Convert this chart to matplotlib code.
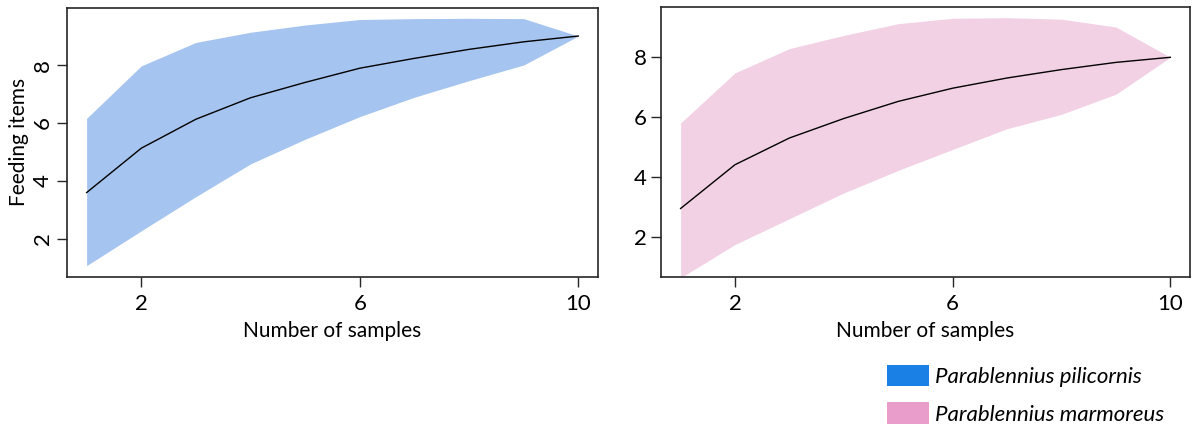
import matplotlib.pyplot as plt
from matplotlib.patches import Patch

plt.rcParams['font.family'] = ['Lato', 'DejaVu Sans']

samples = [1, 2, 3, 4, 5, 6, 7, 8, 9, 10]

# Parablennius pilicornis
pil_mean = [3.60, 5.13, 6.13, 6.87, 7.40, 7.89, 8.23, 8.54, 8.80, 9.00]
pil_upper = [6.16, 7.97, 8.78, 9.13, 9.38, 9.57, 9.60, 9.61, 9.60, 9.00]
pil_lower = [1.08, 2.28, 3.46, 4.59, 5.44, 6.22, 6.89, 7.46, 8.00, 9.00]

# Parablennius marmoreus
mar_mean = [2.96, 4.42, 5.31, 5.96, 6.53, 6.97, 7.31, 7.59, 7.83, 8.00]
mar_upper = [5.81, 7.48, 8.29, 8.73, 9.12, 9.30, 9.32, 9.27, 9.01, 8.00]
mar_lower = [0.65, 1.76, 2.62, 3.48, 4.23, 4.93, 5.62, 6.10, 6.77, 8.00]

species = ['Parablennius pilicornis', 'Parablennius marmoreus']
fill_colors = ['#a5c4ef', '#f3d1e4']
legend_colors = ['#1a80e5', '#e99dcb']

x_ticks = [2, 6, 10]
y_ticks = [2, 4, 6, 8]

fig = plt.figure(figsize=(11.94, 4.30), dpi=100)
ax1 = fig.add_axes([0.0561, 0.356, 0.4447, 0.6256])
ax2 = fig.add_axes([0.5536, 0.356, 0.4430, 0.6280])


def style_axis(ax, ylim):
    ax.set_xlim(0.64, 10.36)
    ax.set_ylim(*ylim)
    ax.set_xticks(x_ticks)
    ax.set_yticks(y_ticks)
    for s in ax.spines.values():
        s.set_linewidth(1.2)
        s.set_color('#262626')
    ax.tick_params(direction='out', length=7, width=1.0, color='#262626',
                   labelsize=16, pad=3)
    ax.tick_params(axis='x', pad=5)
    ax.set_xlabel('Number of samples', fontsize=15, labelpad=5)


ax1.fill_between(samples, pil_lower, pil_upper, color=fill_colors[0], lw=0)
ax1.plot(samples, pil_mean, color='black', lw=1.0)
style_axis(ax1, (0.69, 9.97))
ax1.set_ylabel('Feeding items', fontsize=15, labelpad=3)
for lab in ax1.get_yticklabels():
    lab.set_rotation(90)
    lab.set_va('center')

ax2.fill_between(samples, mar_lower, mar_upper, color=fill_colors[1], lw=0)
ax2.plot(samples, mar_mean, color='black', lw=1.0)
style_axis(ax2, (0.68, 9.68))

handles = [Patch(facecolor=c, edgecolor='none') for c in legend_colors]
leg = fig.legend(handles, species, loc='upper left',
                 bbox_to_anchor=(0.7429, 0.152), frameon=False,
                 prop={'size': 16, 'style': 'italic'},
                 handlelength=1.9, handleheight=1.1,
                 handletextpad=0.28, labelspacing=0.7, borderaxespad=0,
                 borderpad=0)

fig.savefig('out.png', dpi=100)
